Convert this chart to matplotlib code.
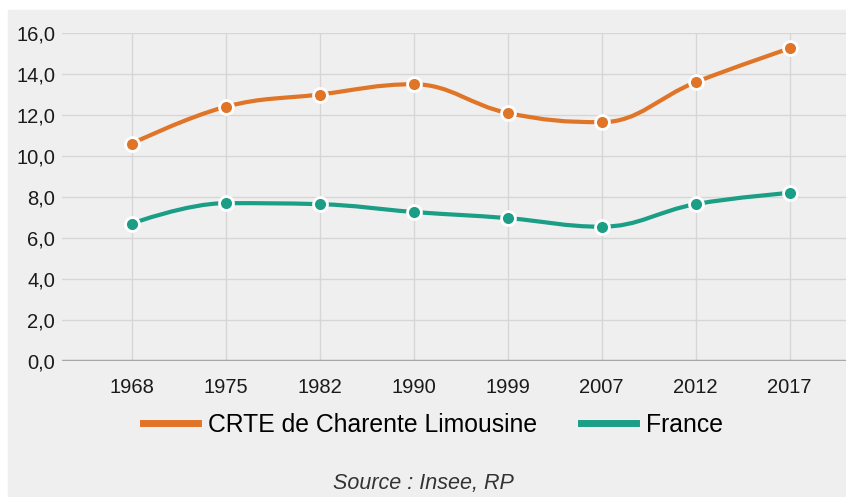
import numpy as np
import matplotlib
matplotlib.use("Agg")
import matplotlib.pyplot as plt
from matplotlib.path import Path
from matplotlib.patches import PathPatch
from matplotlib.lines import Line2D

plt.rcParams['font.family'] = ['Liberation Sans', 'DejaVu Sans']

years = ['1968', '1975', '1982', '1990', '1999', '2007', '2012', '2017']
crte = [10.6, 12.4, 13.0, 13.5, 12.1, 11.65, 13.6, 15.25]
france = [6.7, 7.7, 7.65, 7.27, 6.97, 6.55, 7.65, 8.2]
yticks = [0, 2, 4, 6, 8, 10, 12, 14, 16]

orange = '#e07427'
teal = '#1a9e86'
bg = '#efefef'


def spline_path(xs, ys, smoothing=1.5):
    # highcharts-like bezier spline through the points
    denom = smoothing + 1
    verts = [(xs[0], ys[0])]
    codes = [Path.MOVETO]
    ctrl = []
    n = len(xs)
    for i in range(n):
        if i == 0 or i == n - 1:
            ctrl.append(((xs[i], ys[i]), (xs[i], ys[i])))
            continue
        lx, ly = xs[i - 1], ys[i - 1]
        nx, ny = xs[i + 1], ys[i + 1]
        x, y = xs[i], ys[i]
        lcx = (smoothing * x + lx) / denom
        lcy = (smoothing * y + ly) / denom
        rcx = (smoothing * x + nx) / denom
        rcy = (smoothing * y + ny) / denom
        corr = ((rcy - lcy) * (rcx - x)) / (rcx - lcx) + y - rcy
        lcy += corr
        rcy += corr
        if lcy > ly and lcy > y:
            lcy = max(ly, y)
            rcy = 2 * y - lcy
        elif lcy < ly and lcy < y:
            lcy = min(ly, y)
            rcy = 2 * y - lcy
        if rcy > ny and rcy > y:
            rcy = max(ny, y)
            lcy = 2 * y - rcy
        elif rcy < ny and rcy < y:
            rcy = min(ny, y)
            lcy = 2 * y - rcy
        ctrl.append(((lcx, lcy), (rcx, rcy)))
    for i in range(1, n):
        verts += [ctrl[i - 1][1], ctrl[i][0], (xs[i], ys[i])]
        codes += [Path.CURVE4] * 3
    return Path(verts, codes)


fig = plt.figure(figsize=(8.46, 4.97), dpi=100)
fig.patch.set_facecolor('white')
fig.patches.append(plt.Rectangle((8 / 846, 0), 1, 1 - 10 / 497,
                                 transform=fig.transFigure, color=bg, zorder=-5))

ax = fig.add_axes([62 / 846, 1 - 361 / 497, 1 - 62 / 846, 328 / 497])
ax.set_zorder(2)
ax.set_facecolor(bg)

xs = np.arange(len(years))
ax.set_xlim(-0.74, 7.6)
ax.set_ylim(0, 16)

for name, vals, col in [('CRTE de Charente Limousine', crte, orange), ('France', france, teal)]:
    ax.add_patch(PathPatch(spline_path(xs, vals), facecolor='none', edgecolor=col,
                           lw=3, zorder=3, capstyle='round'))
    ax.plot(xs, vals, ls='none', marker='o', ms=10, mfc=col, mec='white', mew=2, zorder=4,
            clip_on=False)

ax.set_yticks(yticks)
ax.set_yticklabels([f'{v:.1f}'.replace('.', ',') for v in yticks], fontsize=14.5, color='#1a1a1a')
ax.set_xticks(xs)
ax.set_xticklabels(years, fontsize=14.5, color='#1a1a1a')
ax.grid(True, color='#d6d6d6', lw=1, zorder=1)
ax.axhline(0, color='#a8a8a8', lw=2.5, zorder=2)
ax.tick_params(length=0, pad=12)
ax.tick_params(axis='y', pad=5)
for s in ax.spines.values():
    s.set_visible(False)

handles = [Line2D([], [], color=orange, lw=5), Line2D([], [], color=teal, lw=5)]
fig.legend(handles, ['CRTE de Charente Limousine', 'France'], loc='center',
           bbox_to_anchor=(433 / 846, 1 - 425 / 497), ncol=2, frameon=False,
           fontsize=17.8, handlelength=2.2, columnspacing=1.8, handletextpad=0.4)

fig.text(423 / 846, 1 - 483 / 497, 'Source : Insee, RP', ha='center', va='center',
         fontsize=15.5, style='italic', color='#333333')

fig.savefig('out.png', dpi=100, facecolor='white')
